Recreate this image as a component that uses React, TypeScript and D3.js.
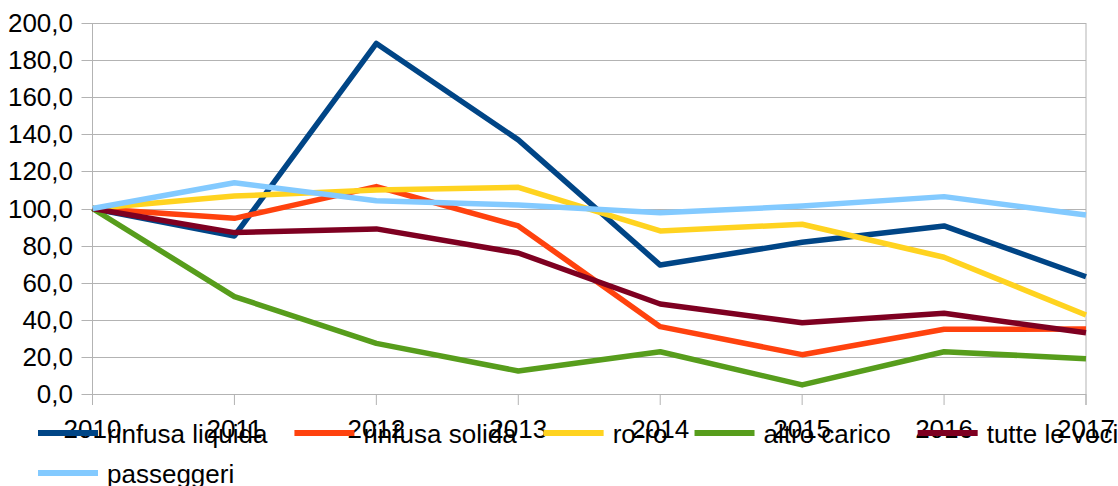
import React from "react"
import * as d3 from "d3"

const years = ["2010", "2011", "2012", "2013", "2014", "2015", "2016", "2017"]
const yTicks = [0, 20, 40, 60, 80, 100, 120, 140, 160, 180, 200]

const seriesNames = [
  "rinfusa liquida",
  "rinfusa solida",
  "ro-ro",
  "altro carico",
  "tutte le voci",
  "passeggeri",
]
const seriesColors = ["#004586", "#ff420e", "#ffd320", "#579d1c", "#7e0021", "#83caff"]

const rinfusaLiquida = [100, 85.2, 189, 137, 69.5, 81.8, 90.6, 63.2]
const rinfusaSolida = [100, 94.7, 111.8, 90.6, 36.3, 21.2, 34.9, 35]
const roRo = [100, 106.7, 110, 111.4, 87.9, 91.5, 73.7, 42.6]
const altroCarico = [100, 52.5, 27.3, 12.4, 22.8, 4.9, 22.8, 19]
const tutteLeVoci = [100, 87, 89, 76, 48.5, 38.4, 43.5, 33]
const passeggeri = [100, 113.9, 104.2, 101.9, 97.7, 101.3, 106.4, 96.5]

const seriesValues = [rinfusaLiquida, rinfusaSolida, roRo, altroCarico, tutteLeVoci, passeggeri]

const W = 1118
const H = 486
const FONT = "'Liberation Sans', Arial, sans-serif"
const FS = 26

const measure = (() => {
  let ctx: CanvasRenderingContext2D | null = null
  return (t: string) => {
    if (!ctx) {
      const c = document.createElement("canvas")
      ctx = c.getContext("2d")
    }
    if (!ctx) return t.length * FS * 0.5
    ctx.font = `${FS}px ${FONT}`
    return ctx.measureText(t).width
  }
})()

export default function App() {
  const left = 92.5
  const right = 1086
  const top = 23
  const bottom = 394

  const x = d3.scalePoint().domain(years).range([left, right])
  const y = d3.scaleLinear().domain([0, 200]).range([bottom, top])
  const line = d3
    .line<number>()
    .x((_, i) => x(years[i]) as number)
    .y((d) => y(d))

  const fmt = (v: number) => v.toFixed(1).replace(".", ",")

  // legend layout: line 60, gap 9, text, gap 27; five per row
  const legendItems: { name: string; color: string; x: number; y: number }[] = []
  let lx = 38
  seriesNames.forEach((name, i) => {
    if (i === 5) lx = 38
    const row = i < 5 ? 0 : 1
    legendItems.push({ name, color: seriesColors[i], x: lx, y: 433 + row * 40 })
    lx += 60 + 9 + measure(name) + 27
  })

  return (
    <svg
      width={W}
      height={H}
      style={{ position: "absolute", left: 0, top: 0, background: "#fff" }}
      fontFamily={FONT}
    >
      <g>
        {yTicks.map((t) => (
          <line
            key={t}
            x1={left - 11}
            x2={right}
            y1={Math.round(y(t)) + 0.5}
            y2={Math.round(y(t)) + 0.5}
            stroke="#b3b3b3"
            strokeWidth={1}
          />
        ))}
        <line x1={left} x2={left} y1={top} y2={bottom + 11} stroke="#b3b3b3" />
        <line x1={right} x2={right} y1={top} y2={bottom + 11} stroke="#b3b3b3" />
        {years.map((yr) => (
          <line
            key={yr}
            x1={x(yr)}
            x2={x(yr)}
            y1={bottom}
            y2={bottom + 11}
            stroke="#b3b3b3"
          />
        ))}
        {yTicks.map((t) => (
          <text
            key={t}
            x={73}
            y={y(t) + 9}
            textAnchor="end"
            fontSize={FS}
            fill="#000"
          >
            {fmt(t)}
          </text>
        ))}
      </g>
      <g fill="none" strokeWidth={5.5} strokeLinejoin="round">
        {seriesValues.map((vals, i) => (
          <path key={i} d={line(vals) || ""} stroke={seriesColors[i]} />
        ))}
      </g>
      <g>
        {years.map((yr) => (
          <text key={yr} x={x(yr)} y={438} textAnchor="middle" fontSize={FS} fill="#000">
            {yr}
          </text>
        ))}
      </g>
      <g>
        {legendItems.map((it) => (
          <g key={it.name}>
            <line x1={it.x} x2={it.x + 60} y1={it.y} y2={it.y} stroke={it.color} strokeWidth={6} />
            <text x={it.x + 69} y={it.y + 9.5} fontSize={FS} fill="#000">
              {it.name}
            </text>
          </g>
        ))}
      </g>
    </svg>
  )
}
